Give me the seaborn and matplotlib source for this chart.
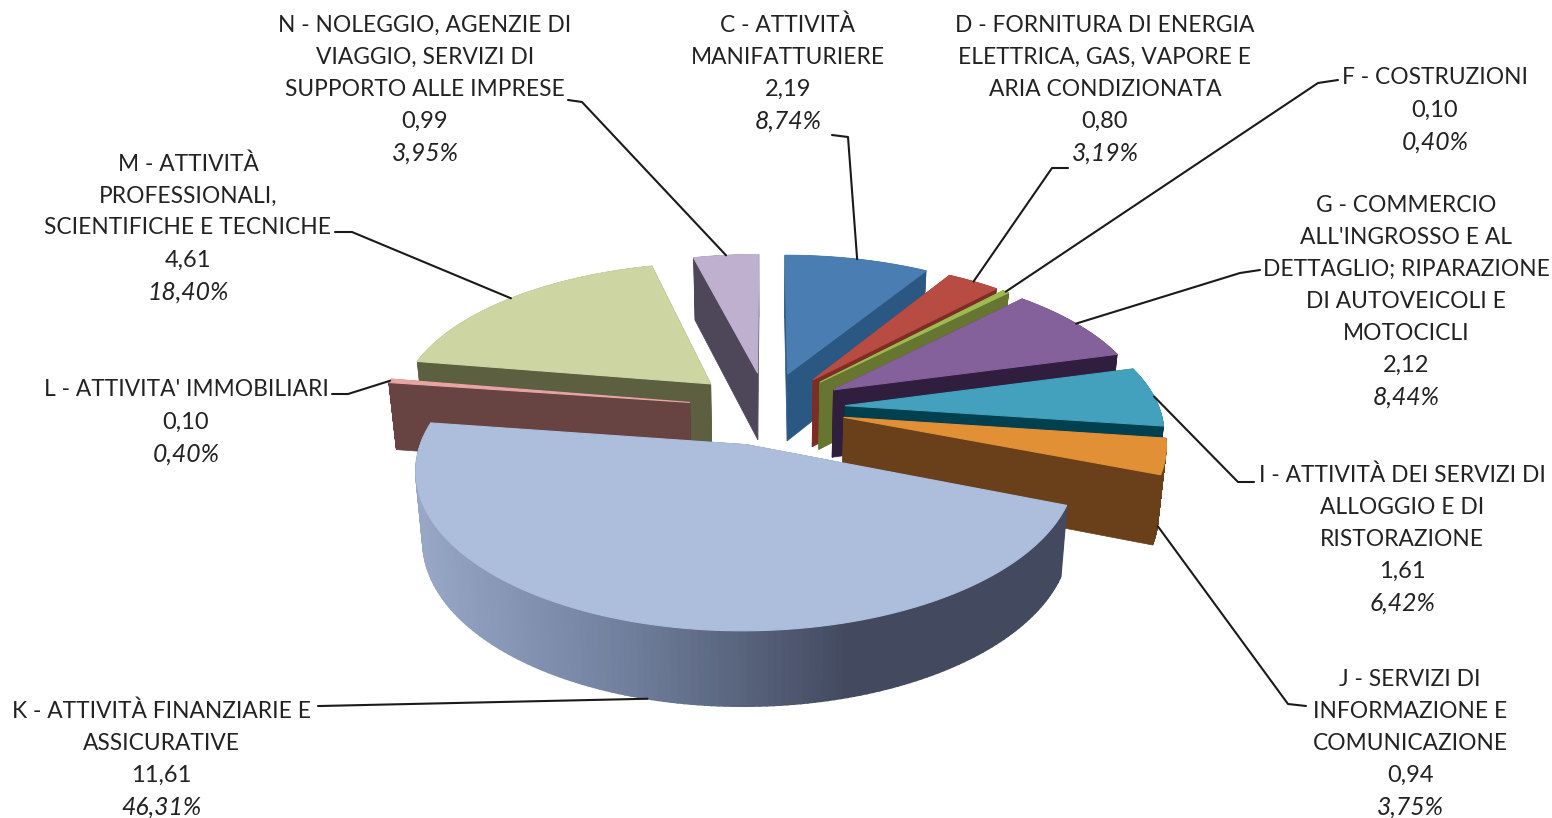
"""
Recreate the exploded 3D pie of active companies by sector.
"""

import numpy as np
import matplotlib
matplotlib.use("Agg")
import matplotlib.pyplot as plt
import seaborn as sns
from matplotlib.patches import Polygon

# data, clockwise from 12 o'clock
names = [
    ["C - ATTIVITÀ", "MANIFATTURIERE"],
    ["D - FORNITURA DI ENERGIA", "ELETTRICA, GAS, VAPORE E", "ARIA CONDIZIONATA"],
    ["F - COSTRUZIONI"],
    ["G - COMMERCIO", "ALL'INGROSSO E AL", "DETTAGLIO; RIPARAZIONE", "DI AUTOVEICOLI E", "MOTOCICLI"],
    ["I - ATTIVITÀ DEI SERVIZI DI", "ALLOGGIO E DI", "RISTORAZIONE"],
    ["J - SERVIZI DI", "INFORMAZIONE E", "COMUNICAZIONE"],
    ["K - ATTIVITÀ FINANZIARIE E", "ASSICURATIVE"],
    ["L - ATTIVITA' IMMOBILIARI"],
    ["M - ATTIVITÀ", "PROFESSIONALI,", "SCIENTIFICHE E TECNICHE"],
    ["N - NOLEGGIO, AGENZIE DI", "VIAGGIO, SERVIZI DI", "SUPPORTO ALLE IMPRESE"],
]
values = [2.19, 0.80, 0.10, 2.12, 1.61, 0.94, 11.61, 0.10, 4.61, 0.99]
shares = [8.74, 3.19, 0.40, 8.44, 6.42, 3.75, 46.31, 0.40, 18.40, 3.95]

top_colors = ["#4A7EB3", "#B84C43", "#9DBB50", "#84619B", "#43A1BD",
              "#E19036", "#ADBDDC", "#E8A5A3", "#CDD6A3", "#BEB0CE"]
wall_colors = ["#2B5882", "#7E2D25", "#66752F", "#2F1E3D", "#00404F",
               "#694019", "#434A60", "#674341", "#5C6041", "#4E4759"]

# label layout: centre x, first line y, then leader elbow points
label_x = [788, 1105, 1435, 1406, 1402, 1410, 161, 186, 188, 425]
label_y = [25, 25, 78, 205, 475, 679, 711, 390, 164, 25]
leader_start = [(832, 135), (1068, 168), (1338, 80), (1260, 270), (1254, 482),
                (1306, 706), (318, 706), (332, 394), (335, 232), (568, 100)]
leader_elbow = [(848, 137), (1052, 168), (1318, 83), (1240, 273), (1238, 482),
                (1288, 704), (320, 706), (348, 394), (352, 232), (582, 102)]
leader_on_wall = [False, False, False, False, False, True, True, False, False, False]

# projection of the pie plane on the picture
CX, CY = 767, 408
RX, RY = 314, 146
PERSP = 0.15
EXPLODE = 0.25
DEPTH = 68
LINE_H = 32
FONT_SIZE = 16.4


def project(u, v, bottom=False):
    p = 1 / (1 - PERSP * v)
    x = CX + RX * u * p
    y = CY + RY * v * p
    if bottom:
        x = CX + (x - CX) * 0.98
        y = y + DEPTH * np.sqrt(p)
    return x, y


def slice_edge(a0, a1, n=160):
    """Rim of one exploded slice, in plane coordinates."""
    mid = (a0 + a1) / 2
    du, dv = EXPLODE * np.sin(mid), -EXPLODE * np.cos(mid)
    t = np.linspace(a0, a1, n)
    return du, dv, du + np.sin(t), dv - np.cos(t)


sns.set_theme(style="white")
plt.rcParams["font.family"] = ["Lato", "DejaVu Sans"]

fig, ax = plt.subplots(figsize=(15.52, 8.18), dpi=100)
fig.subplots_adjust(0, 0, 1, 1)
ax.set_xlim(0, 1552)
ax.set_ylim(818, 0)
ax.axis("off")

ends = np.cumsum(shares) / np.sum(shares) * 2 * np.pi
starts = np.r_[0, ends[:-1]]
mids = (starts + ends) / 2
order = np.argsort(-np.cos(mids))

kwall = sns.blend_palette(["#97A7C6", "#6F7E9B", "#434A60", "#434A60"], 400)

z = 2
for i in order:
    du, dv, us, vs = slice_edge(starts[i], ends[i])
    tx, ty = project(us, vs)
    bx, by = project(us, vs, bottom=True)
    ax_, ay_ = project(du, dv)
    abx, aby = project(du, dv, bottom=True)

    # radial walls
    for j in (0, -1):
        quad = [(ax_, ay_), (tx[j], ty[j]), (bx[j], by[j]), (abx, aby)]
        ax.add_patch(Polygon(quad, fc=wall_colors[i], ec=wall_colors[i], lw=0.5, zorder=z))

    # outer wall, K gets a shaded one
    for j in range(len(tx) - 1):
        col = wall_colors[i]
        lw = 0.3
        if i == 6:
            frac = (tx[j] - tx.min()) / (tx.max() - tx.min())
            col = kwall[int(frac * 399)]
            lw = 1.2
        quad = [(tx[j], ty[j]), (tx[j + 1], ty[j + 1]), (bx[j + 1], by[j + 1]), (bx[j], by[j])]
        ax.add_patch(Polygon(quad, fc=col, ec=col, lw=lw, zorder=z))

    top = [(ax_, ay_)] + list(zip(tx, ty))
    ax.add_patch(Polygon(top, fc=top_colors[i], ec=top_colors[i], lw=0.8, zorder=z + 0.5))
    z += 1

# labels and leaders
for i in range(len(values)):
    du, dv = EXPLODE * np.sin(mids[i]), -EXPLODE * np.cos(mids[i])
    end = project(du + np.sin(mids[i]), dv - np.cos(mids[i]), bottom=leader_on_wall[i])
    pts = np.array([leader_start[i], leader_elbow[i], end])
    ax.plot(pts[:, 0], pts[:, 1], color="#1a1a1a", lw=1.5, zorder=50)

    y = label_y[i]
    for line in names[i]:
        ax.text(label_x[i], y, line, ha="center", va="center", fontsize=FONT_SIZE, color="#222222")
        y += LINE_H
    ax.text(label_x[i], y, f"{values[i]:.2f}".replace(".", ","), ha="center", va="center",
            fontsize=17, color="#222222")
    y += LINE_H
    ax.text(label_x[i], y, f"{shares[i]:.2f}%".replace(".", ","), ha="center", va="center",
            fontsize=17.8, style="italic", color="#222222")

fig.savefig("out.png", dpi=100)
plt.close(fig)
